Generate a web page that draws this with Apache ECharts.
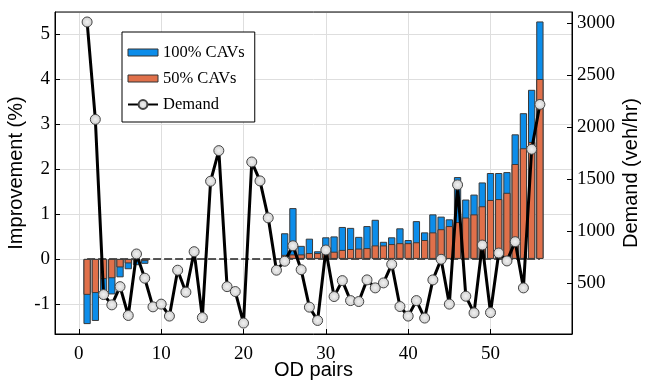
<!DOCTYPE html>
<html><head><meta charset="utf-8">
<script src="https://cdn.jsdelivr.net/npm/echarts@6/dist/echarts.min.js"></script>
<style>html,body{margin:0;padding:0;background:#fff}#c{width:655px;height:383px}</style>
</head><body><div id="c"></div>
<script>
// ---- data ----
const odPairs = [];
for (let i = 1; i <= 56; i++) odPairs.push(i);
const cav100 = [-1.45,-1.38,-0.73,-0.79,-0.41,-0.23,-0.14,-0.11,
  0,0,0,0,0,0,0,0,0,0,0,0,0,0,0,0,
  0.57,1.13,0.29,0.45,0.17,0.48,0.50,0.71,0.69,0.49,0.73,0.87,0.38,0.48,0.68,0.42,
  0.84,0.59,0.99,0.94,0.88,1.82,1.32,1.43,1.70,1.91,1.91,1.93,2.77,3.24,3.76,5.28];
const cav50 = [-0.80,-0.76,-0.45,-0.43,-0.19,-0.10,-0.06,-0.05,
  0,0,0,0,0,0,0,0,0,0,0,0,0,0,0,0,
  0.09,0.10,0.10,0.13,0.13,0.12,0.16,0.20,0.22,0.23,0.24,0.30,0.30,0.33,0.35,0.35,
  0.37,0.42,0.59,0.66,0.73,0.82,0.92,0.99,1.17,1.31,1.33,1.47,2.11,2.46,2.60,4.00];
const demand = [3010,2074,391,292,467,190,781,548,273,299,184,625,414,803,170,1480,
  1774,467,420,117,1665,1483,1128,625,711,860,630,270,142,819,372,525,333,324,532,455,
  503,682,276,184,333,165,532,730,299,1445,375,215,867,218,790,714,899,455,1787,2218];
const seriesNames = ['100% CAVs','50% CAVs','Demand'];

// ---- chart ----
const serif = '"Liberation Serif", "Times New Roman", serif';
const sans = '"Liberation Sans", Arial, sans-serif';
const pairs = (vals) => odPairs.map((x, i) => [x, vals[i]]).filter(d => d[1] !== 0);
const barIcon = 'path://M0,0M0,2L30,2L30,9L0,9ZM30,11';
const plain = (v) => String(Math.round(v * 100) / 100);
const chart = echarts.init(document.getElementById('c'));
chart.setOption({
  animation: false,
  grid: {left: 55, right: 83, top: 12, bottom: 49, show: true, borderColor: '#000', borderWidth: 1, z: 10,
         containLabel: false, outerBoundsMode: 'none'},
  legend: {
    orient: 'vertical', left: 122, top: 32,
    padding: [12, 10, 9, 5], itemGap: 9, itemWidth: 30, itemHeight: 11,
    borderColor: '#000', borderWidth: 1, backgroundColor: '#fff', borderRadius: 0,
    textStyle: {fontFamily: serif, fontSize: 16.5, color: '#000'},
    data: [
      {name: seriesNames[0], icon: barIcon, itemStyle: {borderWidth: 1, borderColor: '#333'}},
      {name: seriesNames[1], icon: barIcon, itemStyle: {borderWidth: 1, borderColor: '#333'}},
      {name: seriesNames[2]}
    ]
  },
  xAxis: {
    type: 'value', min: -2.9, max: 59.9, minInterval: 10, maxInterval: 10,
    name: 'OD pairs', nameLocation: 'middle', nameGap: 26, nameMoveOverlap: false,
    nameTextStyle: {fontFamily: sans, fontSize: 20, color: '#000'},
    axisLine: {onZero: false, lineStyle: {color: '#000', width: 1}},
    axisTick: {inside: true, length: 5, lineStyle: {color: '#000'}},
    axisLabel: {fontFamily: serif, fontSize: 19, color: '#000', margin: 11, showMinLabel: false, showMaxLabel: false, formatter: plain},
    splitLine: {show: true, lineStyle: {color: '#dedede', width: 1}}
  },
  yAxis: [{
    type: 'value', min: -1.67, max: 5.49, minInterval: 1, maxInterval: 1,
    name: 'Improvement (%)', nameLocation: 'middle', nameGap: 29, nameRotate: 90, nameMoveOverlap: false,
    nameTextStyle: {fontFamily: sans, fontSize: 20, color: '#000'},
    axisLine: {show: true, onZero: false, lineStyle: {color: '#000', width: 1}},
    axisTick: {show: true, inside: true, length: 5, lineStyle: {color: '#000'}},
    axisLabel: {fontFamily: serif, fontSize: 19, color: '#000', margin: 5, showMinLabel: false, showMaxLabel: false, formatter: plain},
    splitLine: {show: true, lineStyle: {color: '#dedede', width: 1}}
  }, {
    type: 'value', position: 'right', min: 12, max: 3106, minInterval: 500, maxInterval: 500,
    name: 'Demand (veh/hr)', nameLocation: 'middle', nameGap: 49, nameRotate: 90, nameMoveOverlap: false,
    nameTextStyle: {fontFamily: sans, fontSize: 20, color: '#000'},
    axisLine: {show: true, onZero: false, lineStyle: {color: '#000', width: 1}},
    axisTick: {show: true, inside: true, length: 5, lineStyle: {color: '#000'}},
    axisLabel: {fontFamily: serif, fontSize: 19, color: '#000', margin: 5, showMinLabel: false, showMaxLabel: false, formatter: plain},
    splitLine: {show: false}
  }],
  series: [
    {
      type: 'line', name: 'zero', data: [[odPairs[0], 0], [odPairs[odPairs.length - 1], 0]],
      symbol: 'none', silent: true, z: 1,
      lineStyle: {color: '#222', width: 1.5, type: [8, 3]}
    },
    {
      type: 'bar', name: seriesNames[0], data: pairs(cav100), barWidth: 7.3, barGap: '-100%', z: 2,
      itemStyle: {color: '#0C8DEA', borderColor: '#3a3a3a', borderWidth: 1}
    },
    {
      type: 'bar', name: seriesNames[1], data: pairs(cav50), barWidth: 7.3, barGap: '-100%', z: 3,
      itemStyle: {color: '#E0704A', borderColor: '#3a3a3a', borderWidth: 1}
    },
    {
      type: 'line', name: seriesNames[2], yAxisIndex: 1, data: odPairs.map((x, i) => [x, demand[i]]),
      symbol: 'circle', symbolSize: 10, z: 5,
      lineStyle: {color: '#000', width: 3},
      itemStyle: {
        color: {type: 'radial', x: 0.5, y: 0.5, r: 0.5, colorStops: [{offset: 0, color: '#f2f2f2'}, {offset: 1, color: '#cccccc'}]},
        borderColor: '#444', borderWidth: 1
      }
    }
  ]
});
</script></body></html>
